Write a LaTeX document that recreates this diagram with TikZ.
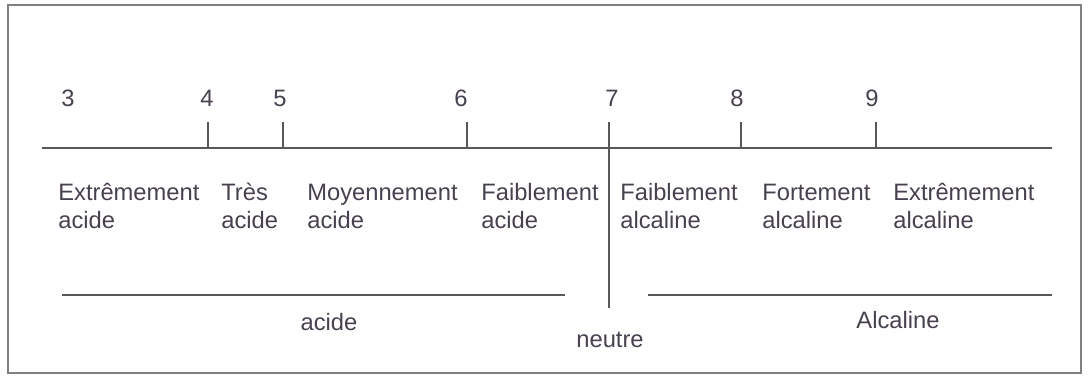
\documentclass[tikz,border=0pt]{standalone}
\usepackage{fontspec}
\setmainfont{Liberation Sans}
\usepackage{xcolor}
\usepackage{tikz}
\usetikzlibrary{positioning}
\definecolor{inkgray}{RGB}{72,64,80}
\definecolor{linegray}{RGB}{88,88,88}
\tikzstyle{frame} = [draw=black!50, line width=1.1pt]
\tikzstyle{axis} = [draw=linegray, line width=1.1pt]
\tikzstyle{num} = [font=\fontsize{13.5}{16}\selectfont, text=inkgray, inner sep=0pt]
\tikzstyle{zone} = [font=\fontsize{13.5}{15.9}\selectfont, text=inkgray, inner sep=0pt, align=left, anchor=west]
\tikzstyle{group} = [font=\fontsize{13.5}{16}\selectfont, text=inkgray, inner sep=0pt]

\begin{document}
\begin{tikzpicture}[x=0.02cm, y=-0.02cm]
  \useasboundingbox (0,0) rectangle (1090,376);
  \draw[frame] (8,5) rectangle (1081,373);
  % pH scale
  \coordinate (scale start) at (42,148);
  \coordinate (scale end) at (1052,148);
  \draw[axis] (scale start) -- (scale end);
  \node (ph3) [num] at (68,98) {3};
  \node (ph4) [num] at (207,98) {4};
  \node (ph5) [num] at (280,98) {5};
  \node (ph6) [num] at (461,98) {6};
  \node (ph7) [num] at (612,98) {7};
  \node (ph8) [num] at (737,98) {8};
  \node (ph9) [num] at (872,98) {9};
  \coordinate (tick4) at (208,122);
  \coordinate (tick5) at (283,122);
  \coordinate (tick6) at (467,122);
  \coordinate (tick7) at (609,122);
  \coordinate (tick8) at (741,122);
  \coordinate (tick9) at (876,122);
  \draw[axis](tick4) -- (tick4 |- scale start);
  \draw[axis](tick5) -- (tick5 |- scale start);
  \draw[axis](tick6) -- (tick6 |- scale start);
  \draw[axis](tick8) -- (tick8 |- scale start);
  \draw[axis](tick9) -- (tick9 |- scale start);
  % zones
  \node (ext acid) [zone] at (58,206) {Extrêmement\\acide};
  \node (very acid) [zone] at (221,206) {Très\\acide};
  \node (mid acid) [zone] at (307,206) {Moyennement\\acide};
  \node (weak acid) [zone] at (481,206) {Faiblement\\acide};
  \node (weak alk) [zone] at (620,206) {Faiblement\\alcaline};
  \node (strong alk) [zone] at (762,206) {Fortement\\alcaline};
  \node (ext alk) [zone] at (893,206) {Extrêmement\\alcaline};
  % acide / neutre / alcaline
  \node (neutre) [group] at (610,340) {neutre};
  \coordinate (neutral end) at (609,308);
  \draw[axis](tick7) -- (neutral end);
  \coordinate (acid start) at (62,295);
  \coordinate (acid end) at (565,295);
  \coordinate (alk start) at (648,295);
  \coordinate (alk end) at (1052,295);
  \draw[axis](acid start) -- (acid end);
  \draw[axis](alk start) -- (alk end);
  \node (acide) [group] at (329,322) {acide};
  \node (alcaline) [group] at (898,320) {Alcaline};
\end{tikzpicture}
\end{document}
